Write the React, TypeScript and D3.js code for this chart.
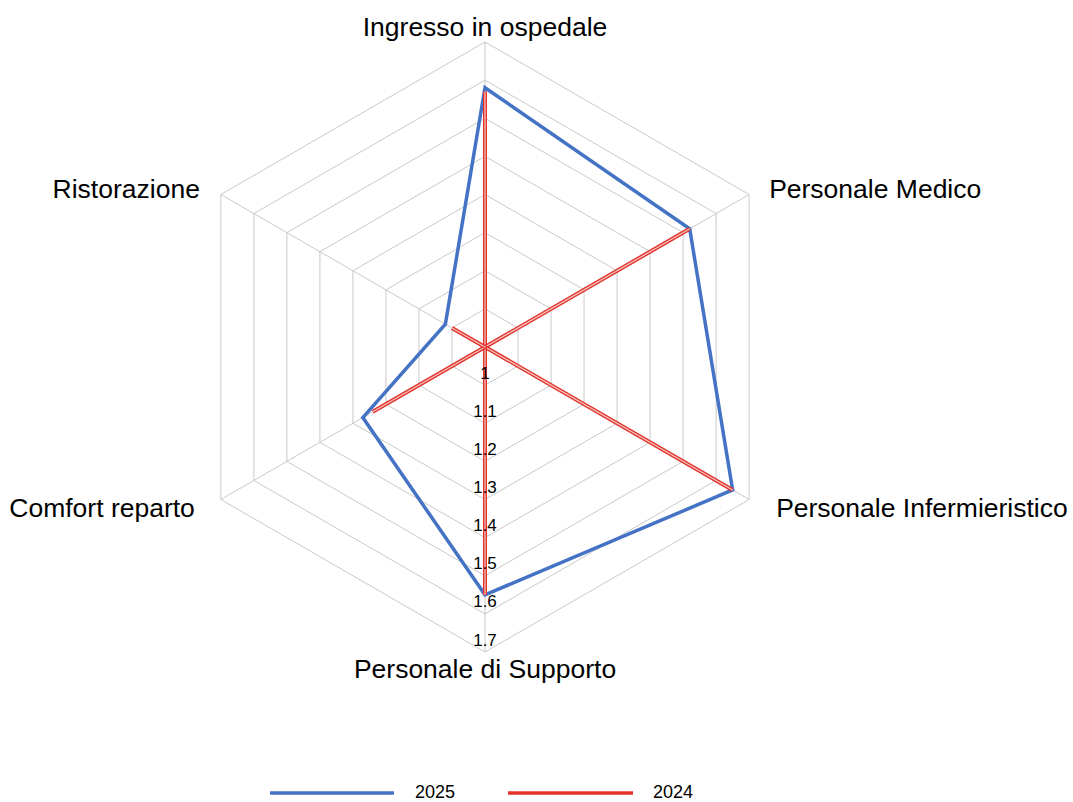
import React from "react";
import * as d3 from "d3";

// Categorie (in senso orario, partendo dall'alto)
const categories = [
  "Ingresso in ospedale",
  "Personale Medico",
  "Personale Infermieristico",
  "Personale di Supporto",
  "Comfort reparto",
  "Ristorazione",
];

// Valori
const values2025 = [1.58, 1.52, 1.65, 1.55, 1.27, 1.02];
const values2024 = [1.57, 1.52, 1.65, 1.55, 1.24, 1.0];

// Etichette dell'asse radiale
const ticks = [1, 1.1, 1.2, 1.3, 1.4, 1.5, 1.6, 1.7];

const W = 1073;
const H = 802;
const cx = 485;
const cy = 347;
const R = 305;
const FONT = "Liberation Sans, Arial, sans-serif";

export default function App() {
  const r = d3.scaleLinear().domain([0.9, 1.7]).range([0, R]);
  const angle = (i: number) => (i * 2 * Math.PI) / categories.length;

  const ring = d3
    .lineRadial<number>()
    .angle((_, i) => angle(i))
    .radius((d) => r(d))
    .curve(d3.curveLinearClosed);

  const spoke = d3
    .lineRadial<[number, number]>()
    .angle((d) => d[0])
    .radius((d) => r(d[1]));

  const pt = (a: number, v: number) => [Math.sin(a) * r(v), -Math.cos(a) * r(v)];

  return (
    <svg
      width={W}
      height={H}
      style={{ position: "absolute", left: 0, top: 0, background: "#fff" }}
      fontFamily={FONT}
    >
      <g transform={`translate(${cx},${cy})`}>
        {/* griglia */}
        {ticks.map((t) => (
          <path
            key={t}
            d={ring(categories.map(() => t)) ?? ""}
            fill="none"
            stroke="#c9c9c9"
            strokeWidth={1}
          />
        ))}
        {categories.map((c, i) => (
          <path
            key={c}
            d={spoke([[angle(i), 0.9], [angle(i), 1.7]]) ?? ""}
            stroke="#c9c9c9"
            strokeWidth={1}
          />
        ))}

        {/* serie 2025 */}
        <path
          d={ring(values2025) ?? ""}
          fill="none"
          stroke="#4472c4"
          strokeWidth={3.5}
        />

        {/* serie 2024 */}
        {values2024.map((v, i) => {
          const d = spoke([[angle(i), 0.9], [angle(i), v]]) ?? "";
          return (
            <g key={i}>
              <path d={d} stroke="#e3332b" strokeWidth={4} />
              <path d={d} stroke="#f3c9c5" strokeWidth={1.2} />
            </g>
          );
        })}

        {/* etichette asse */}
        {ticks.map((t) => (
          <text
            key={t}
            x={0}
            y={r(t) - 12}
            textAnchor="middle"
            dominantBaseline="central"
            fontSize={17}
            fill="#000"
          >
            {String(t)}
          </text>
        ))}

        {/* etichette categorie */}
        {categories.map((c, i) => {
          const a = angle(i);
          const [vx, vy] = pt(a, 1.7);
          let x = vx;
          let y = vy;
          let anchor: "start" | "middle" | "end" = "middle";
          if (Math.abs(vx) < 1) {
            y = vy < 0 ? vy - 6 : vy + 26;
          } else {
            anchor = vx > 0 ? "start" : "end";
            if (vy < 0) {
              x = vx + (vx > 0 ? 20 : -21);
              y = vy + 3;
            } else {
              x = vx + (vx > 0 ? 27 : -26);
              y = vy + 17;
            }
          }
          return (
            <text key={c} x={x} y={y} textAnchor={anchor} fontSize={26.5} fill="#000">
              {c}
            </text>
          );
        })}
      </g>

      {/* legenda */}
      <g fontSize={18}>
        <line x1={270} x2={394} y1={793} y2={793} stroke="#4472c4" strokeWidth={3.5} />
        <text x={415} y={792} dominantBaseline="central" fill="#000">2025</text>
        <line x1={508} x2={633} y1={793} y2={793} stroke="#e3332b" strokeWidth={3.5} />
        <text x={653} y={792} dominantBaseline="central" fill="#000">2024</text>
      </g>
    </svg>
  );
}
